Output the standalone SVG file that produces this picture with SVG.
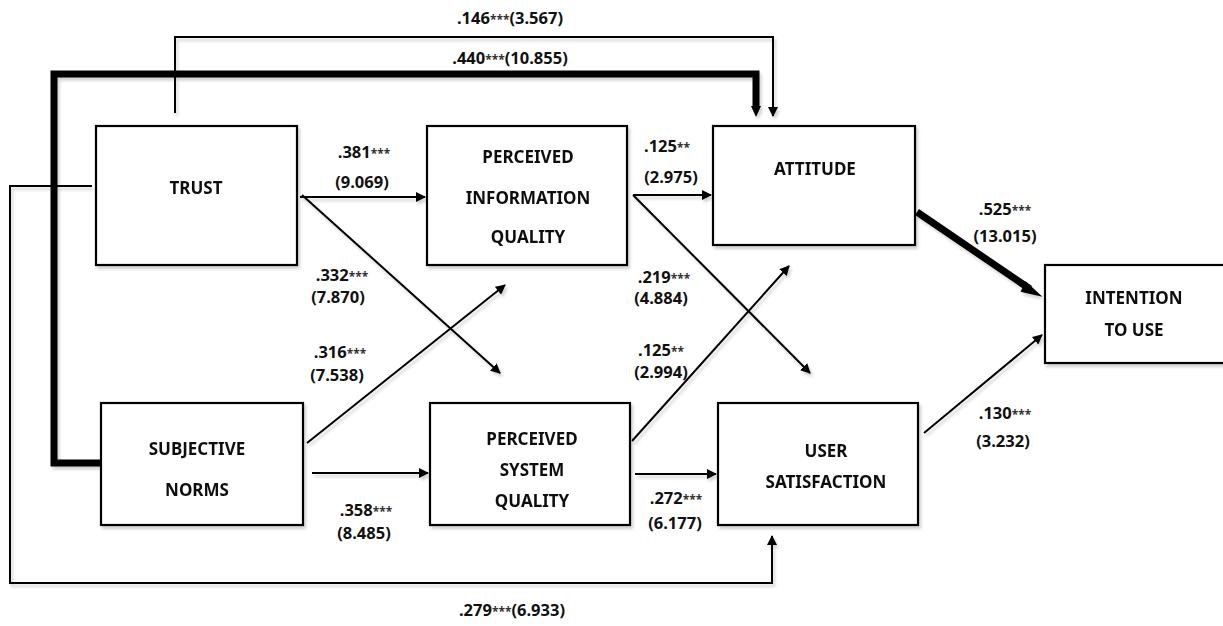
<svg xmlns="http://www.w3.org/2000/svg" width="1223" height="626" viewBox="0 0 1223 626">
<style>
.box{fill:#fff;stroke:#000;stroke-width:2.2}
.n{font-family:"Noto Sans","Open Sans",sans-serif;font-weight:bold;font-size:17px;fill:#111;text-anchor:middle}
.l{font-family:"Noto Sans","Open Sans",sans-serif;font-weight:bold;font-size:16.5px;fill:#111;text-anchor:middle}
.s{font-size:12px;fill:#333}
.c{fill:none;stroke:#000;stroke-width:2}
.t{fill:none;stroke:#000;stroke-width:7}
</style>
<defs>
<marker id="a" viewBox="0 0 10 10" refX="9" refY="5" markerWidth="10" markerHeight="10" markerUnits="userSpaceOnUse" orient="auto"><path d="M0,0 L10,5 L0,10 z" fill="#000"/></marker>
<filter id="sh" x="-5%" y="-5%" width="115%" height="120%"><feDropShadow dx="2" dy="3" stdDeviation="1.5" flood-color="#000" flood-opacity="0.18"/></filter>
</defs>
<g id="connectors" filter="url(#sh)">
<polyline class="c" points="175,113 175,37 773,37 773,116" marker-end="url(#a)"/>
<polyline class="t" points="101,463 54,463 54,74 756,74 756,106"/>
<path d="M751,106 L761,106 L756,117 z" fill="#000"/>
<polyline class="c" points="92,186 10,186 10,583 772,583 772,536" marker-end="url(#a)"/>
<line class="c" x1="300" y1="197" x2="425" y2="197" marker-end="url(#a)"/>
<line class="c" x1="302" y1="195" x2="500" y2="373" marker-end="url(#a)"/>
<line class="c" x1="307" y1="443" x2="505" y2="285" marker-end="url(#a)"/>
<line class="c" x1="312" y1="473" x2="428" y2="473" marker-end="url(#a)"/>
<line class="c" x1="633" y1="195" x2="711" y2="195" marker-end="url(#a)"/>
<line class="c" x1="633" y1="195" x2="810" y2="373" marker-end="url(#a)"/>
<line class="c" x1="632" y1="441" x2="789" y2="266" marker-end="url(#a)"/>
<line class="c" x1="635" y1="474" x2="716" y2="474" marker-end="url(#a)"/>
<line class="t" x1="917" y1="212" x2="1030" y2="289"/>
<path d="M1026,283 L1039,295 L1022,291 z" fill="#000" stroke="#000" stroke-width="2"/>
<line class="c" x1="924" y1="433" x2="1042" y2="335" marker-end="url(#a)"/>
</g>
<g id="trust" filter="url(#sh)"><rect class="box" x="96" y="126" width="201" height="139"/><text class="n" x="196" y="194">TRUST</text></g>
<g id="piq" filter="url(#sh)"><rect class="box" x="427" y="126" width="200" height="139"/><text class="n" x="528" y="163">PERCEIVED</text><text class="n" x="528" y="204">INFORMATION</text><text class="n" x="528" y="243">QUALITY</text></g>
<g id="attitude" filter="url(#sh)"><rect class="box" x="713" y="126" width="202" height="119"/><text class="n" x="815" y="175">ATTITUDE</text></g>
<g id="intention" filter="url(#sh)"><rect class="box" x="1045" y="265" width="180" height="98"/><text class="n" x="1134" y="304">INTENTION</text><text class="n" x="1134" y="336">TO USE</text></g>
<g id="sn" filter="url(#sh)"><rect class="box" x="101" y="403" width="202" height="122"/><text class="n" x="197" y="455">SUBJECTIVE</text><text class="n" x="197" y="496">NORMS</text></g>
<g id="psq" filter="url(#sh)"><rect class="box" x="430" y="403" width="200" height="122"/><text class="n" x="532" y="445">PERCEIVED</text><text class="n" x="532" y="476">SYSTEM</text><text class="n" x="532" y="507">QUALITY</text></g>
<g id="us" filter="url(#sh)"><rect class="box" x="718" y="403" width="200" height="122"/><text class="n" x="826" y="457">USER</text><text class="n" x="826" y="488">SATISFACTION</text></g>
<g id="labels">
<text class="l" x="510" y="24">.146<tspan class="s">***</tspan>(3.567)</text>
<text class="l" x="510" y="64">.440<tspan class="s">***</tspan>(10.855)</text>
<text class="l" x="364" y="158">.381<tspan class="s">***</tspan></text>
<text class="l" x="362" y="188">(9.069)</text>
<text class="l" x="342" y="281">.332<tspan class="s">***</tspan></text>
<text class="l" x="338" y="303">(7.870)</text>
<text class="l" x="340" y="358">.316<tspan class="s">***</tspan></text>
<text class="l" x="337" y="381">(7.538)</text>
<text class="l" x="366" y="516">.358<tspan class="s">***</tspan></text>
<text class="l" x="364" y="539">(8.485)</text>
<text class="l" x="667" y="152">.125<tspan class="s">**</tspan></text>
<text class="l" x="671" y="183">(2.975)</text>
<text class="l" x="664" y="283">.219<tspan class="s">***</tspan></text>
<text class="l" x="661" y="304">(4.884)</text>
<text class="l" x="661" y="356">.125<tspan class="s">**</tspan></text>
<text class="l" x="661" y="378">(2.994)</text>
<text class="l" x="676" y="504">.272<tspan class="s">***</tspan></text>
<text class="l" x="675" y="529">(6.177)</text>
<text class="l" x="1005" y="215">.525<tspan class="s">***</tspan></text>
<text class="l" x="1005" y="242">(13.015)</text>
<text class="l" x="1005" y="419">.130<tspan class="s">***</tspan></text>
<text class="l" x="1003" y="447">(3.232)</text>
<text class="l" x="512" y="616">.279<tspan class="s">***</tspan>(6.933)</text>
</g>
</svg>
